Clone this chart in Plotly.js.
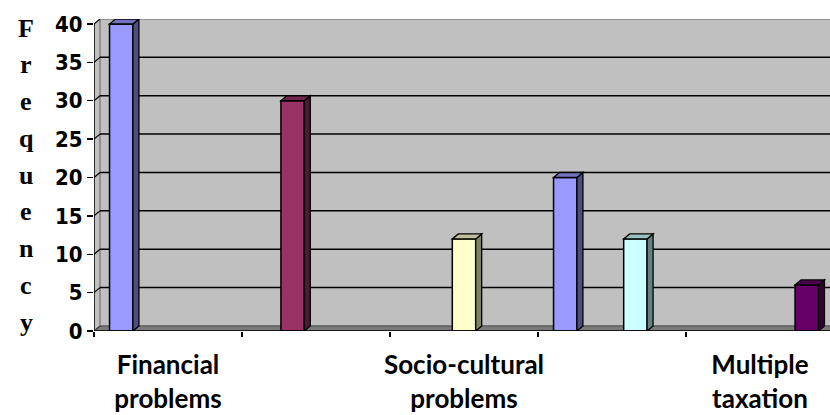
<!DOCTYPE html>
<html>
<head>
<meta charset="utf-8">
<script src="https://cdn.plot.ly/plotly-3.0.1.min.js"></script>
<style>html,body{margin:0;padding:0;background:#fff;}#chart{width:830px;height:415px;}</style>
</head>
<body>
<div id="chart"></div>
<script>
// ---- data ----
var categories = ["Financial problems", "(unlabelled 2)", "Socio-cultural problems", "(unlabelled 4)", "Multiple taxation"];
var shownLabels = ["Financial<br>problems", "", "Socio-cultural<br>problems", "", "Multiple<br>taxation"];
var seriesNames = ["Series1", "Series2", "Series3", "Series4", "Series5"];
var series1 = [40, null, null, 20, null];
var series2 = [null, 30, null, null, null];
var series3 = [null, null, 12, null, null];
var series4 = [null, null, null, 12, null];
var series5 = [null, null, null, null, 6];
var yTicks = [0, 5, 10, 15, 20, 25, 30, 35, 40];
var yTitleLetters = ["F", "r", "e", "q", "u", "e", "n", "c", "y"];

var allSeries = [series1, series2, series3, series4, series5];
var colors = ["#9999FF", "#993366", "#FFFFCC", "#CCFFFF", "#660066"];

// ---- geometry helpers ----
var W = 830, H = 415, mL = 94, mR = 0, mT = 19, mB = 84;
var xmin = -0.5, xmax = 4.473;
var ymax = 40.65;
var pxX = (W - mL - mR) / (xmax - xmin);
var pxY = (H - mT - mB) / ymax;
var dx = 6 / pxX, dy = 5 / pxY;   // 3D depth offset
var bargap = 0.21;
var bw = (1 - bargap) / allSeries.length;

function shade(hex, f) {
  var r = parseInt(hex.substr(1, 2), 16), g = parseInt(hex.substr(3, 2), 16), b = parseInt(hex.substr(5, 2), 16);
  function c(v) { v = Math.round(v * f); return ("0" + v.toString(16)).slice(-2); }
  return "#" + c(r) + c(g) + c(b);
}
function poly(pts) {
  return "M" + pts.map(function (p) { return p[0] + "," + p[1]; }).join(" L") + " Z";
}

var xIdx = categories.map(function (_, i) { return i; });

var traces = allSeries.map(function (vals, j) {
  return {
    type: "bar", name: seriesNames[j], x: xIdx, y: vals,
    marker: { color: colors[j], line: { color: "#000", width: 1.5 } },
    hoverinfo: "y"
  };
});

var shapes = [];
// side wall
shapes.push({ type: "path", xref: "x", yref: "y", layer: "below",
  path: poly([[xmin, 0], [xmin, 40], [xmin + dx, 40 + dy], [xmin + dx, dy]]),
  fillcolor: "#C0C0C0", line: { width: 0 } });
// back wall
shapes.push({ type: "rect", xref: "x", yref: "y", layer: "below",
  x0: xmin + dx, x1: xmax + 0.02, y0: dy, y1: 40 + dy,
  fillcolor: "#C0C0C0", line: { color: "#808080", width: 1.5 } });
// floor
shapes.push({ type: "path", xref: "x", yref: "y", layer: "below",
  path: poly([[xmin, 0], [xmax + 0.02, 0], [xmax + 0.02, dy], [xmin + dx, dy]]),
  fillcolor: "#7a7a7a", line: { color: "#555", width: 1 } });
// gridlines + diagonals
yTicks.forEach(function (v) {
  if (v > 0 && v < 40) {
    shapes.push({ type: "line", xref: "x", yref: "y", layer: "below",
      x0: xmin + dx, x1: xmax + 0.02, y0: v + dy, y1: v + dy, line: { color: "#000", width: 1.5 } });
  }
  shapes.push({ type: "line", xref: "x", yref: "y", layer: "below",
    x0: xmin, x1: xmin + dx, y0: v, y1: v + dy, line: { color: v === 0 ? "#404040" : "#000", width: 1.2 } });
});
// axis lines
shapes.push({ type: "line", xref: "x", yref: "y", layer: "below",
  x0: xmin, x1: xmin, y0: 0, y1: 40, line: { color: "#000", width: 1.5 } });
shapes.push({ type: "line", xref: "x", yref: "y", layer: "above",
  x0: xmin, x1: xmax + 0.02, y0: 0, y1: 0, line: { color: "#000", width: 1.5 } });

// 3D faces of bars
allSeries.forEach(function (vals, j) {
  vals.forEach(function (v, i) {
    if (v === null || v === undefined) return;
    var xc = i + (j - (allSeries.length - 1) / 2) * bw;
    var l = xc - bw / 2, r = xc + bw / 2;
    shapes.push({ type: "path", xref: "x", yref: "y", layer: "above",
      path: poly([[r, 0], [r, v], [r + dx, v + dy], [r + dx, dy]]),
      fillcolor: shade(colors[j], 0.5), line: { color: "#000", width: 1.3 } });
    shapes.push({ type: "path", xref: "x", yref: "y", layer: "above",
      path: poly([[l, v], [r, v], [r + dx, v + dy], [l + dx, v + dy]]),
      fillcolor: shade(colors[j], 0.75), line: { color: "#000", width: 1.3 } });
  });
});

// y title: stacked letters down the left edge
var letterTopPx = 28, letterStepPx = 36.75;
var annotations = yTitleLetters.map(function (ch, k) {
  return { text: ch, xref: "paper", yref: "paper",
    x: (26 - mL) / (W - mL - mR),
    y: 1 - (letterTopPx + k * letterStepPx - mT) / (H - mT - mB),
    xanchor: "center", yanchor: "middle", showarrow: false,
    font: { family: "Liberation Serif, Times New Roman, serif", size: 26, weight: "bold", color: "#000" } };
});

var layout = {
  width: W, height: H,
  margin: { l: mL, r: mR, t: mT, b: mB, pad: 0 },
  paper_bgcolor: "#fff", plot_bgcolor: "rgba(0,0,0,0)",
  showlegend: false,
  barmode: "group", bargap: bargap, bargroupgap: 0,
  xaxis: {
    type: "linear", range: [xmin, xmax], fixedrange: true,
    showgrid: false, zeroline: false, showline: false,
    tickvals: xIdx, ticktext: shownLabels,
    ticks: "outside", ticklen: 11, tickcolor: "rgba(0,0,0,0)",
    tickfont: { family: "Lato, Open Sans, sans-serif", size: 26, weight: "bold", color: "#000" },
    minor: { tickvals: [-0.5, 0.5, 1.5, 2.5, 3.5, 4.5], ticks: "outside", ticklen: 5, tickcolor: "#000", tickwidth: 1.5, showgrid: false }
  },
  yaxis: {
    range: [0, ymax], fixedrange: true,
    showgrid: false, zeroline: false, showline: false,
    tickvals: yTicks, ticks: "outside", ticklen: 6, tickwidth: 1.5, tickcolor: "#000",
    tickfont: { family: "DejaVu Sans Condensed, DejaVu Sans, sans-serif", size: 22, weight: "bold", color: "#000" }
  },
  shapes: shapes,
  annotations: annotations
};

Plotly.newPlot("chart", traces, layout, { staticPlot: true, displayModeBar: false });
</script>
</body>
</html>
